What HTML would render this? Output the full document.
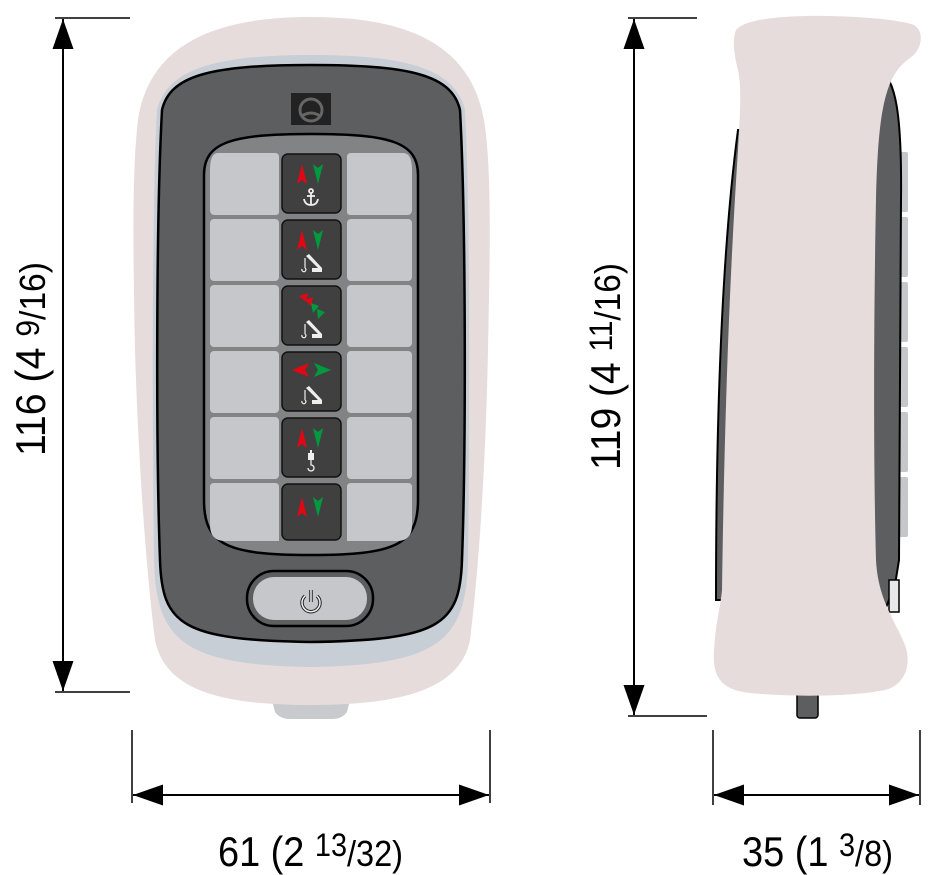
<!DOCTYPE html>
<html><head><meta charset="utf-8"><style>
html,body{margin:0;padding:0;background:#fff}
svg{display:block}
text{font-family:"Liberation Sans",sans-serif;fill:#000}
</style></head><body>
<svg width="935" height="875" viewBox="0 0 935 875" xmlns="http://www.w3.org/2000/svg">
<defs>
<marker id="a" viewBox="0 0 10 10" refX="10" refY="5" markerWidth="30" markerHeight="30" markerUnits="userSpaceOnUse" orient="auto"><path d="M0,1.5 L10,5 L0,8.5 Z" fill="#000"/></marker>
<g id="up"><path d="M0,12 L5,-8 L10,12 L5,8 Z" fill="#e30613"/></g>
<g id="dn"><path d="M0,-8 L5,-4 L10,-8 L5,12 Z" fill="#009a3e"/></g>
<g id="crane" fill="#eee"><path d="M-6,-6 L-3,-8 L10,6 L10,10 L0,10 L0,6 L6,6 L-4,-4 Z"/><path d="M-7,-4 L-7,6 M-7,6 a2,2 0 1 1 -3,1" stroke="#eee" stroke-width="1.2" fill="none"/></g>
</defs>

<!-- LEFT DIMENSION -->
<line x1="55" y1="18" x2="130" y2="18" stroke="#000" stroke-width="1.5"/>
<line x1="55" y1="692" x2="130" y2="692" stroke="#000" stroke-width="1.5"/>
<line x1="63" y1="355" x2="63" y2="19" stroke="#000" stroke-width="2" marker-end="url(#a)"/>
<line x1="63" y1="355" x2="63" y2="691" stroke="#000" stroke-width="2" marker-end="url(#a)"/>
<text transform="translate(45,456) rotate(-90)" font-size="42" textLength="194" lengthAdjust="spacingAndGlyphs">116 (4 <tspan font-size="32" dy="-6">9</tspan><tspan font-size="36" dy="6">/16)</tspan></text>

<!-- BOTTOM DIMENSION -->
<line x1="132" y1="730" x2="132" y2="803" stroke="#000" stroke-width="1.5"/>
<line x1="490" y1="730" x2="490" y2="803" stroke="#000" stroke-width="1.5"/>
<line x1="311" y1="795" x2="133" y2="795" stroke="#000" stroke-width="2" marker-end="url(#a)"/>
<line x1="311" y1="795" x2="489" y2="795" stroke="#000" stroke-width="2" marker-end="url(#a)"/>
<text x="218" y="866" font-size="42" textLength="185" lengthAdjust="spacingAndGlyphs">61 (2 <tspan font-size="32" dy="-10">13</tspan><tspan font-size="36" dy="10">/32)</tspan></text>

<!-- RIGHT DIMENSION -->
<line x1="628" y1="18" x2="697" y2="18" stroke="#000" stroke-width="1.5"/>
<line x1="628" y1="716" x2="707" y2="716" stroke="#000" stroke-width="1.5"/>
<line x1="634" y1="366" x2="634" y2="19" stroke="#000" stroke-width="2" marker-end="url(#a)"/>
<line x1="634" y1="366" x2="634" y2="715" stroke="#000" stroke-width="2" marker-end="url(#a)"/>
<text transform="translate(620,470) rotate(-90)" font-size="42" textLength="207" lengthAdjust="spacingAndGlyphs">119 (4 <tspan font-size="32" dy="-8">11</tspan><tspan font-size="36" dy="8">/16)</tspan></text>

<line x1="713" y1="730" x2="713" y2="805" stroke="#000" stroke-width="1.5"/>
<line x1="920" y1="730" x2="920" y2="805" stroke="#000" stroke-width="1.5"/>
<line x1="816" y1="795" x2="714" y2="795" stroke="#000" stroke-width="2" marker-end="url(#a)"/>
<line x1="816" y1="795" x2="919" y2="795" stroke="#000" stroke-width="2" marker-end="url(#a)"/>
<text x="742" y="866" font-size="42" textLength="151" lengthAdjust="spacingAndGlyphs">35 (1 <tspan font-size="32" dy="-10">3</tspan><tspan font-size="36" dy="10">/8)</tspan></text>

<!-- FRONT VIEW -->
<path d="M272,700 L350,700 L347,712 Q342,719 332,719 L290,719 Q280,719 275,712 Z" fill="#c8cacd"/>
<path d="M311,17 C400,17 470,40 484,120 C492,170 490,250 488,350 C486,450 480,560 470,640 C460,690 400,705 311,705 C220,705 165,690 155,640 C145,560 138,450 135,350 C133,250 132,170 138,120 C150,40 222,17 311,17 Z" fill="#e7dcdc"/>
<path d="M311,55 C410,55 455,70 465,110 C470,200 470,400 468,560 C466,640 440,665 311,667 C182,665 156,640 154,560 C152,400 152,200 157,110 C167,70 212,55 311,55 Z" fill="#c8ced5"/>
<path d="M311,65 C410,65 452,75 460,110 C466,220 466,450 462,560 C460,625 440,640 311,642 C182,640 162,625 160,560 C156,450 156,220 162,110 C170,75 212,65 311,65 Z" fill="#5d5e60" stroke="#000" stroke-width="2.5"/>
<!-- logo -->
<rect x="291" y="93" width="40" height="32" fill="#222"/>
<circle cx="311" cy="110" r="11" fill="none" stroke="#666" stroke-width="3"/>
<path d="M302,116 Q311,110 320,116" stroke="#666" stroke-width="3" fill="none"/>
<!-- panel -->
<path d="M311,134 C390,134 418,142 418,175 L418,500 C418,545 395,555 311,555 C227,555 204,545 204,500 L204,175 C204,142 232,134 311,134 Z" fill="#828384" stroke="#000" stroke-width="2.5"/>
<g fill="#c6c7cb">
<path d="M218,153 L275,153 Q279,153 279,157 L279,212 Q279,215 275,215 L215,215 Q210,215 210,210 L210,170 Q210,153 218,153 Z"/>
<path d="M347,157 Q347,153 351,153 L403,153 Q412,153 412,170 L412,210 Q412,215 407,215 L351,215 Q347,215 347,212 Z"/>
<rect x="210" y="219" width="69" height="62" rx="4"/><rect x="347" y="219" width="65" height="62" rx="4"/>
<rect x="210" y="285" width="69" height="62" rx="4"/><rect x="347" y="285" width="65" height="62" rx="4"/>
<rect x="210" y="351" width="69" height="62" rx="4"/><rect x="347" y="351" width="65" height="62" rx="4"/>
<rect x="210" y="417" width="69" height="62" rx="4"/><rect x="347" y="417" width="65" height="62" rx="4"/>
<path d="M210,487 Q210,483 214,483 L275,483 Q279,483 279,487 L279,541 L225,541 Q210,541 210,525 Z"/>
<path d="M347,487 Q347,483 351,483 L408,483 Q412,483 412,487 L412,525 Q412,541 397,541 L347,541 Z"/>
</g>
<g fill="#404040" stroke="#111" stroke-width="1.5">
<rect x="282" y="154" width="59" height="59" rx="6"/>
<rect x="282" y="220" width="59" height="59" rx="6"/>
<rect x="282" y="286" width="59" height="59" rx="6"/>
<rect x="282" y="352" width="59" height="59" rx="6"/>
<rect x="282" y="418" width="59" height="59" rx="6"/>
<rect x="282" y="484" width="59" height="56" rx="6"/>
</g>
<use href="#up" x="297" y="172"/><use href="#dn" x="313" y="172"/>
<g stroke="#eee" stroke-width="1.8" fill="none"><circle cx="311" cy="191" r="2"/><line x1="311" y1="193" x2="311" y2="205"/><line x1="307" y1="196" x2="315" y2="196"/><path d="M304,199 Q305,205 311,205 Q317,205 318,199"/></g>
<use href="#up" x="297" y="238"/><use href="#dn" x="313" y="238"/>
<use href="#crane" x="312" y="262"/>
<path d="M299,296 L308,293 L306,302 Z M305,300 L313,297 L311,306 Z" fill="#e30613"/>
<path d="M311,303 L319,306 L313,313 Z M317,309 L325,312 L318,319 Z" fill="#009a3e"/>
<use href="#crane" x="312" y="328"/>
<path d="M292,370 L309,363 L305,370 L309,377 Z" fill="#e30613"/>
<path d="M331,370 L314,363 L318,370 L314,377 Z" fill="#009a3e"/>
<use href="#crane" x="312" y="394"/>
<use href="#up" x="297" y="436"/><use href="#dn" x="313" y="436"/>
<g fill="#eee"><rect x="308" y="453" width="6" height="7"/><rect x="310" y="450" width="2" height="3"/><path d="M311,460 L311,465 a3,3 0 1 1 -3,3" stroke="#eee" stroke-width="1.3" fill="none"/></g>
<use href="#up" x="297" y="505"/><use href="#dn" x="313" y="505"/>
<!-- power -->
<rect x="247" y="571" width="126" height="55" rx="27" fill="#5d5e60" stroke="#000" stroke-width="2.5"/>
<rect x="253" y="577" width="114" height="43" rx="21" fill="#c6c7cb"/>
<path d="M305,596 A9,9 0 1 0 317,596" fill="none" stroke="#222" stroke-width="3.5"/>
<path d="M305,596 A9,9 0 1 0 317,596" fill="none" stroke="#eee" stroke-width="1.5"/>
<line x1="311" y1="590" x2="311" y2="602" stroke="#222" stroke-width="3.5"/>
<line x1="311" y1="590" x2="311" y2="602" stroke="#eee" stroke-width="1.5"/>

<!-- SIDE VIEW -->
<rect x="797" y="690" width="21" height="28" rx="3" fill="#5d5e60" stroke="#000" stroke-width="1.5"/>
<g fill="#c6c7cb"><rect x="898" y="152" width="10" height="60" rx="2"/><rect x="898" y="217" width="10" height="60" rx="2"/><rect x="898" y="282" width="10" height="60" rx="2"/><rect x="898" y="347" width="10" height="60" rx="2"/><rect x="898" y="412" width="10" height="60" rx="2"/><rect x="898" y="477" width="10" height="60" rx="2"/></g>
<path d="M880,70 C895,80 902,110 901,200 L899,560 L895,585 L885,610 L860,610 L860,70 Z" fill="#5d5e60" stroke="#000" stroke-width="2"/>
<rect x="889" y="580" width="10" height="32" fill="#e8e8ea" stroke="#000" stroke-width="1.5"/>
<path d="M738,130 L742,130 L742,600 L716,600 C716,420 722,250 738,130 Z" fill="#5d5e60" stroke="#000" stroke-width="2"/>
<path d="M736,30 C745,18 790,15 830,16 C870,17 900,20 914,25 C925,32 922,50 910,58 C885,75 878,110 876,200 C874,300 873,450 876,560 C878,600 895,620 905,645 C912,665 905,685 885,690 C850,697 790,697 750,693 C722,690 712,678 714,650 C716,620 720,610 722,590 C724,450 728,300 738,150 C740,110 742,90 738,70 C734,55 732,40 736,30 Z" fill="#e7dcdc"/>
</svg>
</body></html>
